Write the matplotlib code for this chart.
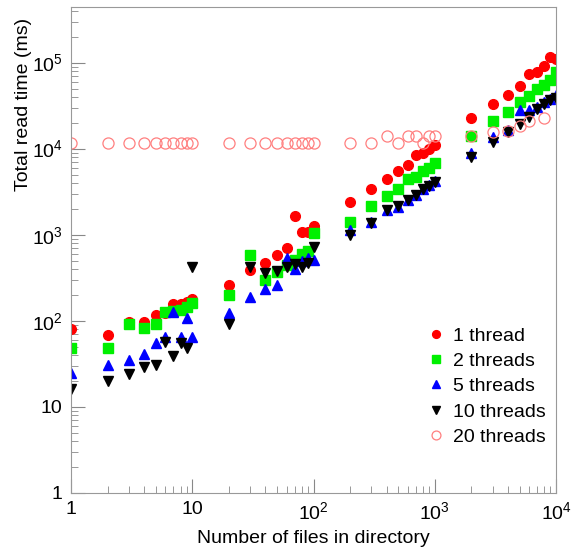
import numpy as np
import matplotlib
matplotlib.use('Agg')
import matplotlib.pyplot as plt
from matplotlib.ticker import LogLocator, FuncFormatter, NullFormatter

plt.rcParams['font.family'] = ['Liberation Sans', 'DejaVu Sans']
plt.rcParams['mathtext.default'] = 'regular'

# Datos
files = [1, 2, 3, 4, 5, 6, 7, 8, 9, 10,
         20, 30, 40, 50, 60, 70, 80, 90, 100,
         200, 300, 400, 500, 600, 700, 800, 900, 1000,
         2000, 3000, 4000, 5000, 6000, 7000, 8000, 9000, 10000]

t1 = [80, 68, 97, 97, 116, 122, 155, 158, 165, 177,
      260, 386, 465, 580, 695, 1650, 1080, 1080, 1270,
      2380, 3380, 4450, 5500, 6460, 8450, 9000, 9840, 11000,
      22500, 33100, 41800, 54000, 73900, 78500, 91600, 115700, 109600]

t2 = [48.5, 48.5, 91, 82, 91, 125, 130, 133, 145, 162,
      199, 578, 297, 368, 444, 508, 597, 652, 1055,
      1394, 2170, 2820, 3380, 4410, 4720, 5550, 6010, 6870,
      14200, 21000, 26500, 35200, 41000, 49100, 55100, 62900, 78500]

t5 = [24.8, 30.5, 35, 41, 55.5, 65, 125, 64, 107, 65,
      122, 190, 232, 260, 540, 396, 494, 532, 508,
      1135, 1416, 1940, 2100, 2530, 2900, 3400, 3750, 4200,
      8850, 13600, 16500, 28200, 28200, 30800, 35200, 37800, 42100]

t10 = [16, 20, 24, 29, 30.5, 57, 39, 55, 48, 418,
       92, 418, 362, 381, 425, 456, 418, 465, 725,
       993, 1360, 1940, 2160, 2530, 2900, 3380, 3680, 4130,
       7940, 12060, 15780, 19400, 23600, 28700, 32800, 36800, 39200]

files20 = [1, 2, 3, 4, 5, 6, 7, 8, 9, 10,
           20, 30, 40, 50, 60, 70, 80, 90, 100,
           200, 300, 400, 500, 600, 700, 800, 900, 1000,
           2000, 3000, 4000, 5000, 6000, 8000]
t20 = [11600] * 19 + [11600, 11600, 14000, 11600, 14000, 14000, 11600, 14000, 14000,
                      14200, 15500, 16000, 18300, 21000, 22500]

fig = plt.figure(figsize=(5.75, 5.48), dpi=100)
ax = fig.add_axes([0.1235, 0.1009, 0.8435, 0.8858])

ax.plot(files, t1, 'o', color='red', markersize=7, label='1 thread')
ax.plot(files, t2, 's', color='#00f000', markersize=7, label='2 threads')
ax.plot(files, t5, '^', color='blue', markersize=7, label='5 threads')
ax.plot(files, t10, 'v', color='black', markersize=7, label='10 threads')
ax.plot(files20, t20, 'o', markerfacecolor='none', markeredgecolor='#ff7f7f',
        markeredgewidth=0.9, markersize=8, label='20 threads')

ax.set_xscale('log')
ax.set_yscale('log')
ax.set_xlim(1, 1e4)
ax.set_ylim(1, 4.4e5)


def fmt(v, pos):
    if v == 1:
        return '1'
    if v == 10:
        return '10'
    return '$10^{%d}$' % int(round(np.log10(v)))


for axis in (ax.xaxis, ax.yaxis):
    axis.set_major_locator(LogLocator(base=10, numticks=10))
    axis.set_minor_locator(LogLocator(base=10, subs=np.arange(2, 10), numticks=10))
    axis.set_major_formatter(FuncFormatter(fmt))
    axis.set_minor_formatter(NullFormatter())

ax.tick_params(which='both', direction='in', top=False, right=False,
               color='#888888', labelsize=14)
ax.tick_params(which='major', length=10, pad=6)
ax.tick_params(which='minor', length=5)
for s in ax.spines.values():
    s.set_color('#999999')

ax.set_xlabel('Number of files in directory', fontsize=14, labelpad=5)
ax.set_ylabel('Total read time (ms)', fontsize=14)
ax.yaxis.set_label_coords(-0.08, 0.8)

ax.legend(loc='lower right', bbox_to_anchor=(1.015, 0.06), frameon=False,
          fontsize=14, handletextpad=0.3, labelspacing=0.4, markerscale=0.8,
          handlelength=1.2)

plt.savefig('out.png', dpi=100)
